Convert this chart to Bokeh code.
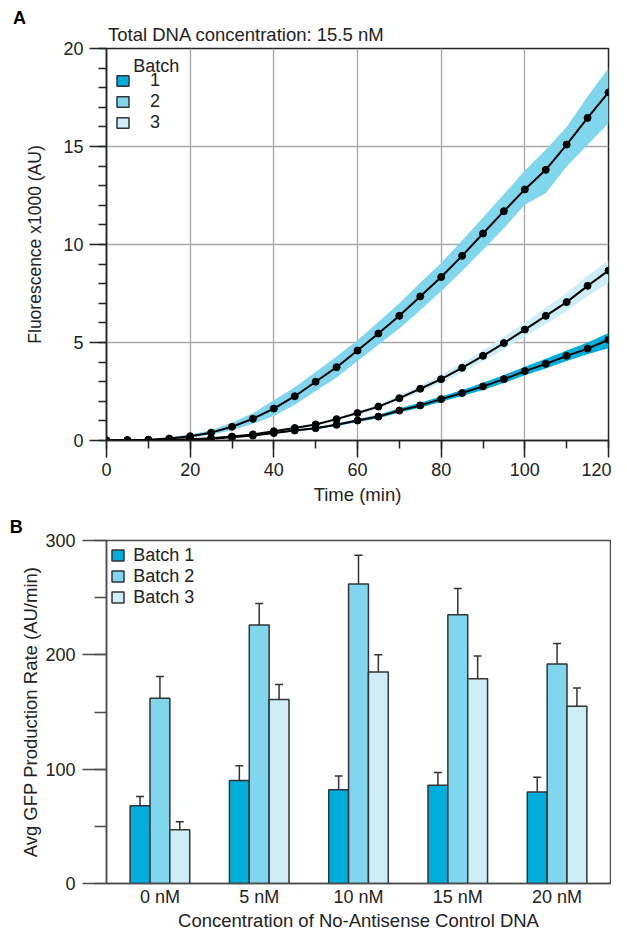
from bokeh.plotting import figure
from bokeh.layouts import column
from bokeh.models import (
    ColumnDataSource,
    Range1d,
    FactorRange,
    SingleIntervalTicker,
    Legend,
    LegendItem,
    Label,
    Title,
    Whisker,
    TeeHead,
)
from bokeh.transform import dodge
from bokeh.embed import file_html
from bokeh.resources import INLINE

FONT = "Liberation Sans"
C1, C2, C3 = "#00AEDB", "#80D6EC", "#CDEEF7"
INK = "#222222"
NAN = float("nan")

# ---- panel A: fluorescence (x1000 AU) read every 5 min ----
time_min = [0, 5, 10, 15, 20, 25, 30, 35, 40, 45, 50, 55, 60,
            65, 70, 75, 80, 85, 90, 95, 100, 105, 110, 115, 120]

batch1_mean = [0, 0.01, 0.02, 0.03, 0.05, 0.09, 0.16, 0.25, 0.38, 0.51, 0.63, 0.80, 1.02,
               1.22, 1.53, 1.79, 2.11, 2.42, 2.76, 3.13, 3.54, 3.91, 4.32, 4.69, 5.14]
batch1_low = [0, 0, 0.01, 0.02, 0.04, 0.08, 0.14, 0.23, 0.35, 0.47, 0.58, 0.74, 0.95,
              1.13, 1.43, 1.67, 1.98, 2.27, 2.58, 2.94, 3.33, 3.67, 4.06, 4.40, 4.71]
batch1_high = [0.01, 0.02, 0.03, 0.04, 0.06, 0.10, 0.18, 0.28, 0.41, 0.55, 0.68, 0.87, 1.09,
               1.31, 1.64, 1.92, 2.25, 2.58, 2.95, 3.34, 3.76, 4.17, 4.59, 5.00, 5.48]

batch2_mean = [0, 0.02, 0.04, 0.10, 0.22, 0.40, 0.70, 1.11, 1.63, 2.26, 3.00, 3.74, 4.59,
               5.46, 6.36, 7.35, 8.34, 9.42, 10.56, 11.70, 12.81, 13.81, 15.10, 16.46, 17.76]
batch2_low = [0, 0, 0.01, 0.05, 0.14, 0.29, 0.52, 0.85, 1.25, 1.82, 2.52, 3.22, 4.06,
              4.88, 5.72, 6.65, 7.62, 8.65, 9.73, 10.83, 12.03, 12.62, 13.98, 15.09, 16.19]
batch2_high = [0.05, 0.06, 0.08, 0.16, 0.30, 0.52, 0.90, 1.40, 2.05, 2.72, 3.50, 4.28, 5.12,
               6.04, 7.00, 8.05, 9.06, 10.20, 11.38, 12.56, 13.78, 14.83, 15.99, 17.55, 19.00]

batch3_mean = [0, 0.01, 0.02, 0.03, 0.06, 0.12, 0.20, 0.31, 0.47, 0.64, 0.82, 1.09, 1.40,
               1.73, 2.16, 2.64, 3.13, 3.71, 4.32, 4.97, 5.66, 6.36, 7.06, 7.89, 8.67]
batch3_low = [0, 0, 0.01, 0.02, 0.05, 0.10, 0.18, 0.28, 0.43, 0.59, 0.76, 1.02, 1.31,
              1.62, 2.02, 2.47, 2.93, 3.47, 4.04, 4.65, 5.31, 5.95, 6.60, 7.37, 8.03]
batch3_high = [0.01, 0.02, 0.03, 0.04, 0.07, 0.14, 0.22, 0.34, 0.51, 0.69, 0.88, 1.16, 1.49,
               1.84, 2.30, 2.81, 3.33, 3.95, 4.60, 5.29, 6.01, 6.77, 7.52, 8.41, 9.18]

batch_names = ["1", "2", "3"]

# ---- panel B: average GFP production rate (AU/min) ----
conc_labels = ["0 nM", "5 nM", "10 nM", "15 nM", "20 nM"]
rate_b1 = [68, 90, 82, 86, 80]
err_b1 = [8, 13, 12, 11, 13]
rate_b2 = [162, 226, 262, 235, 192]
err_b2 = [19, 19, 25, 23, 18]
rate_b3 = [47, 161, 185, 179, 155]
err_b3 = [7, 13, 15, 20, 16]


def style_axes(p):
    for ax in p.axis:
        ax.axis_line_color = INK
        ax.axis_line_width = 1.5
        ax.major_tick_line_color = INK
        ax.major_tick_line_width = 1.5
        ax.minor_tick_line_color = INK
        ax.minor_tick_line_width = 1.5
        ax.major_tick_in = 0
        ax.minor_tick_in = 0
        ax.major_label_text_font = FONT
        ax.major_label_text_font_size = "18px"
        ax.major_label_text_color = INK
        ax.axis_label_text_font = FONT
        ax.axis_label_text_font_size = "18.5px"
        ax.axis_label_text_font_style = "normal"
        ax.axis_label_text_color = INK
    p.outline_line_color = INK
    p.outline_line_width = 1.5


def panel_title(text, offset, standoff, bold=False, size="18px"):
    return Title(
        text=text,
        align="left",
        offset=offset,
        standoff=standoff,
        text_font=FONT,
        text_font_size=size,
        text_font_style="bold" if bold else "normal",
        text_color="black" if bold else INK,
    )


def make_legend(items, loc, standoff, gh):
    return Legend(
        items=items,
        location=loc,
        glyph_width=15,
        glyph_height=gh,
        label_standoff=standoff,
        label_text_font=FONT,
        label_text_font_size="18px",
        label_text_color=INK,
        padding=0,
        spacing=-1,
        margin=0,
        border_line_color=None,
        background_fill_alpha=0,
    )


# ================= panel A =================
pa = figure(
    width=611,
    height=507,
    frame_width=502,
    frame_height=392,
    min_border_left=101,
    min_border_right=8,
    min_border_top=48,
    min_border_bottom=67,
    x_range=Range1d(0, 120),
    y_range=Range1d(0, 20),
    x_axis_label="Time (min)",
    y_axis_label="Fluorescence x1000 (AU)",
    output_backend="svg",
    toolbar_location=None,
)
style_axes(pa)
# panel letter is the outer title, the concentration note sits next to the frame
pa.title = panel_title("A", -93.5, -21, bold=True)
pa.add_layout(panel_title("Total DNA concentration: 15.5 nM", 1.5, 8, size="18.5px"), "above")
pa.yaxis.axis_label_text_font_size = "17.5px"
pa.xaxis.ticker = SingleIntervalTicker(interval=20, num_minor_ticks=2)
pa.yaxis.ticker = SingleIntervalTicker(interval=5, num_minor_ticks=5)
for ax in pa.axis:
    ax.major_tick_out = 17
    ax.minor_tick_out = 8
pa.xaxis.major_label_standoff = 5
pa.xaxis.axis_label_standoff = 5
pa.yaxis.major_label_standoff = 6
pa.yaxis.axis_label_standoff = 15
pa.grid.grid_line_color = "#a6a6a6"
pa.grid.grid_line_width = 1.3

# shaded bands first, then the mean curves on top
pa.varea(x=time_min, y1=batch2_low, y2=batch2_high, fill_color=C2)
pa.varea(x=time_min, y1=batch3_low, y2=batch3_high, fill_color=C3)
pa.varea(x=time_min, y1=batch1_low, y2=batch1_high, fill_color=C1)
for mean in (batch2_mean, batch3_mean, batch1_mean):
    pa.line(time_min, mean, line_color="black", line_width=2)
    pa.scatter(time_min, mean, size=7, color="black")

# legend swatches: undrawn (NaN) quads so the legend shows outlined boxes
swatches = []
for col in (C1, C2, C3):
    swatches.append(
        pa.quad(left=[NAN], right=[NAN], top=[NAN], bottom=[NAN],
                fill_color=col, line_color="#333333", line_width=1.5)
    )
pa.add_layout(make_legend(
    [LegendItem(label=n, renderers=[r]) for n, r in zip(batch_names, swatches)],
    (9, 307.5), 20, 13))
pa.add_layout(Label(x=26.7, y=375, x_units="screen", y_units="screen", text="Batch",
                    text_font=FONT, text_font_size="18px", text_color=INK, text_baseline="middle"))

# ================= panel B =================
src = ColumnDataSource(
    dict(
        conc=conc_labels,
        b1=rate_b1,
        b1_lo=[v - e for v, e in zip(rate_b1, err_b1)],
        b1_hi=[v + e for v, e in zip(rate_b1, err_b1)],
        b2=rate_b2,
        b2_lo=[v - e for v, e in zip(rate_b2, err_b2)],
        b2_hi=[v + e for v, e in zip(rate_b2, err_b2)],
        b3=rate_b3,
        b3_lo=[v - e for v, e in zip(rate_b3, err_b3)],
        b3_hi=[v + e for v, e in zip(rate_b3, err_b3)],
    )
)

pb = figure(
    width=611,
    height=419,
    frame_width=504,
    frame_height=343,
    min_border_left=106,
    min_border_right=1,
    min_border_top=33,
    min_border_bottom=43,
    x_range=FactorRange(factors=conc_labels, range_padding=0.038, range_padding_units="absolute"),
    y_range=Range1d(0, 300),
    x_axis_label="Concentration of No-Antisense Control DNA",
    y_axis_label="Avg GFP Production Rate (AU/min)",
    output_backend="svg",
    toolbar_location=None,
)
style_axes(pb)
pb.title = panel_title("B", -96.7, 8, bold=True)
BAX = "#4d4d4d"
for ax in pb.axis:
    ax.axis_line_color = BAX
    ax.major_tick_line_color = BAX
    ax.minor_tick_line_color = BAX
pb.outline_line_color = BAX
pb.yaxis.ticker = SingleIntervalTicker(interval=100, num_minor_ticks=2)
pb.yaxis.major_tick_out = 24
pb.yaxis.minor_tick_out = 12
pb.yaxis.major_label_standoff = 7
pb.yaxis.axis_label_standoff = 1
pb.xaxis.major_tick_out = 0
pb.xaxis.major_tick_line_color = None
pb.xaxis.major_label_standoff = 3
pb.xaxis.axis_label_standoff = 0
pb.grid.visible = False

bars = []
for key, off, col in (("b1", -0.2, C1), ("b2", 0.0, C2), ("b3", 0.2, C3)):
    r = pb.vbar(x=dodge("conc", off, range=pb.x_range), top=key, width=0.2, source=src,
                fill_color=col, line_color="#333333", line_width=1.5)
    bars.append(r)
    pb.add_layout(
        Whisker(
            base=dodge("conc", off, range=pb.x_range),
            lower=key + "_lo",
            upper=key + "_hi",
            source=src,
            line_color="#333333",
            line_width=1.5,
            upper_head=TeeHead(size=8, line_color="#333333", line_width=1.5),
            lower_head=TeeHead(size=8, line_color="#333333", line_width=1.5),
        )
    )

pb.add_layout(make_legend(
    [LegendItem(label="Batch " + n, renderers=[r]) for n, r in zip(batch_names, bars)],
    (4.3, 275.3), 8, 14))

open("out.html", "w").write(file_html(column(pa, pb), INLINE))
